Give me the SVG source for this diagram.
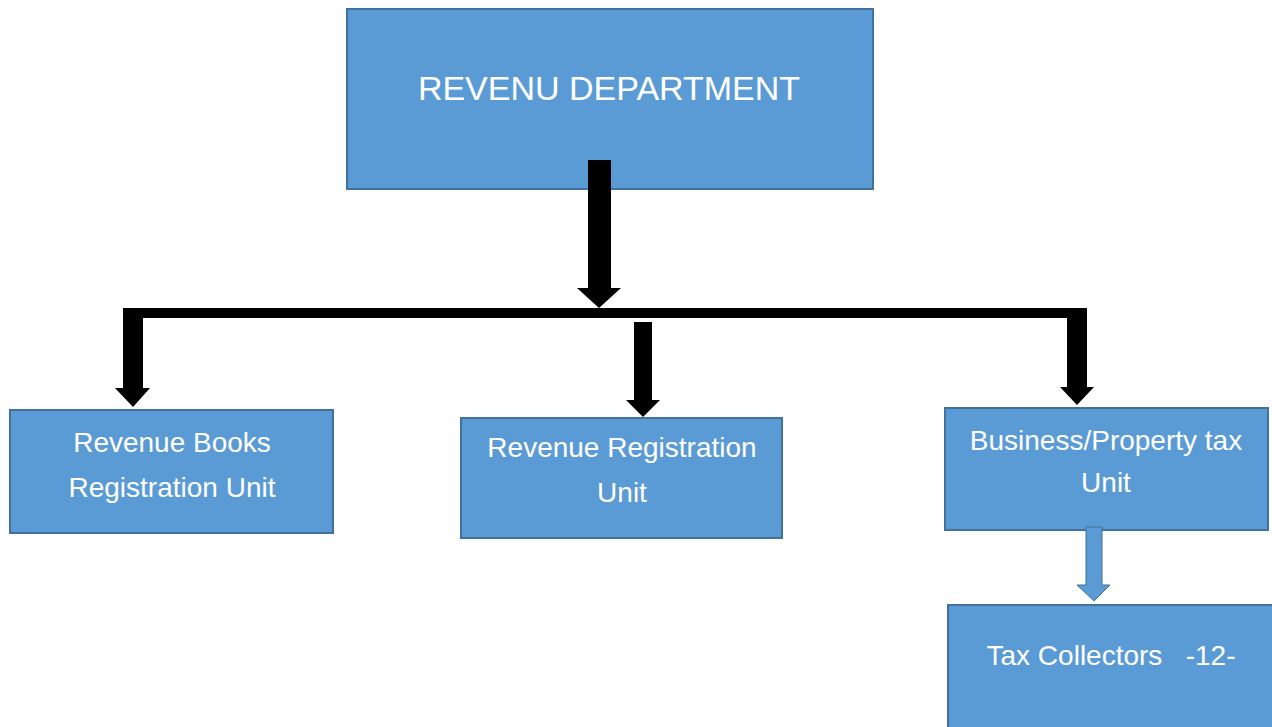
<svg xmlns="http://www.w3.org/2000/svg" width="1272" height="727" viewBox="0 0 1272 727">
<style>
.box{fill:#5B9BD5;stroke:#41719C;stroke-width:2}
.lbl{fill:#FFFFFF;font-family:"Liberation Sans","Open Sans",sans-serif;font-size:28px;text-anchor:middle}
.big{font-size:34px}
.blk{fill:#000000}
.blu{fill:#5B9BD5;stroke:#41719C;stroke-width:1}
</style>
<rect width="1272" height="727" fill="#FFFFFF"/>
<g id="revenu-department">
<rect class="box" x="347" y="9" width="526" height="180"/>
<text class="lbl big" x="609" y="100">REVENU DEPARTMENT</text>
</g>
<g id="revenue-books">
<rect class="box" x="10" y="410" width="323" height="123"/>
<text class="lbl" x="172" y="452">Revenue Books</text>
<text class="lbl" x="172" y="497">Registration Unit</text>
</g>
<g id="revenue-registration">
<rect class="box" x="461" y="418" width="321" height="120"/>
<text class="lbl" x="622" y="457">Revenue Registration</text>
<text class="lbl" x="622" y="502">Unit</text>
</g>
<g id="business-property">
<rect class="box" x="945" y="408" width="323" height="122"/>
<text class="lbl" x="1106" y="450">Business/Property tax</text>
<text class="lbl" x="1106" y="492">Unit</text>
</g>
<g id="tax-collectors">
<rect class="box" x="948" y="605" width="330" height="130"/>
<text class="lbl" x="1111" y="665" xml:space="preserve">Tax Collectors   -12-</text>
</g>
<g id="connectors">
<path class="blk" d="M588,160 H611 V288 H621 L599,308 L577,288 H588 Z"/>
<path class="blk" d="M123,308 H1087 V387 H1094 L1077,405 L1060,387 H1067 V318 H143 V388 H150 L133,407 L115,388 H123 Z"/>
<path class="blk" d="M634,322 H652 V400 H660 L643,417 L626,400 H634 Z"/>
<path class="blu" d="M1086,527 H1102 V585 H1110 L1094,601 L1077,585 H1086 Z"/>
</g>
</svg>
